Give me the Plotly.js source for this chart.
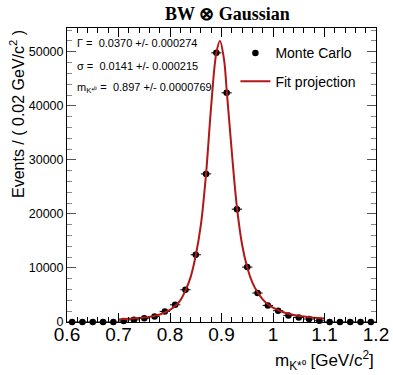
<!DOCTYPE html>
<html>
<head>
<meta charset="utf-8">
<script src="https://cdn.plot.ly/plotly-3.0.1.min.js"></script>
<style>html,body{margin:0;padding:0;background:#fff}#chart{width:393px;height:375px}</style>
</head>
<body>
<div id="chart"></div>
<script>
// Binned Monte Carlo data (bin centres, 0.02 GeV/c^2 bins)
const binCenters = [0.61,0.63,0.65,0.67,0.69,0.71,0.73,0.75,0.77,0.79,0.81,0.83,0.85,0.87,0.89,0.91,0.93,0.95,0.97,0.99,1.01,1.03,1.05,1.07,1.09,1.11,1.13,1.15,1.17,1.19];
const counts     = [0,0,0,0,0,180,400,700,1030,1960,3180,5970,12440,27400,49800,42400,20880,10160,5360,3070,2090,1220,850,550,220,0,0,0,0,0];
const binHalfWidth = [0.01];

// Fit projection
const fitX = [0.70,0.72,0.74,0.76,0.78,0.80,0.81,0.82,0.83,0.84,0.85,0.86,0.87,0.88,0.89,0.897,0.905,0.91,0.92,0.93,0.94,0.95,0.96,0.97,0.98,0.99,1.00,1.02,1.04,1.06,1.08,1.10];
const fitY = [480,580,720,950,1400,2250,2950,4000,5800,8300,12300,18000,27400,40000,49800,52000,48500,43000,31500,21200,14300,10100,7300,5500,4200,3300,2650,1800,1300,1000,800,650];

// Fit results
const fitLabels = ["\u0393 =  0.0370 +/- 0.000274", "\u03c3 =  0.0141 +/- 0.000215", "m<sub>K*\u2070</sub> =  0.897 +/- 0.0000769"];

const titleText = "BW \u2297 Gaussian";
const xTitle = "m<sub>K*\u2070</sub> [GeV/c<sup>2</sup>]";
const yTitle = "Events / ( 0.02 GeV/c<sup>2</sup> )";

const errY = counts.map(v => Math.sqrt(v));

const traces = [
  {
    x: binCenters, y: counts, type: 'scatter', mode: 'markers', name: 'Monte Carlo', legendgroup: 'a',
    marker: {color: '#000', size: 6.5},
    error_x: {type: 'constant', value: binHalfWidth[0], color: '#000', thickness: 1, width: 0},
    error_y: {type: 'data', array: errY, color: '#000', thickness: 1, width: 0},
    cliponaxis: false
  },
  {
    x: fitX, y: fitY, type: 'scatter', mode: 'lines', name: 'Fit projection', legendgroup: 'b',
    line: {color: '#b01818', width: 2, shape: 'spline', smoothing: 1.0}
  }
];

const ann = [];
ann.push({text: titleText, xref: 'paper', yref: 'paper', x: 0.52, y: 1.0, yshift: 14, xanchor: 'center', yanchor: 'middle', showarrow: false,
  font: {family: 'Liberation Serif, serif', size: 18, color: '#000', weight: 'bold'}});
[0,1,2].forEach(i => ann.push({text: fitLabels[i], xref: 'paper', yref: 'paper', x: 0.025, y: 1, yshift: -15 - i*22.5, xanchor: 'left', yanchor: 'middle', showarrow: false,
  font: {family: 'Liberation Sans, Arial, sans-serif', size: 11, color: '#000'}}));
ann.push({text: xTitle, xref: 'paper', yref: 'paper', x: 1.0, y: 0, yshift: -38, xanchor: 'right', yanchor: 'middle', showarrow: false,
  font: {family: 'Liberation Sans, Arial, sans-serif', size: 17, color: '#000'}});
ann.push({text: yTitle, xref: 'paper', yref: 'paper', x: 0, xshift: -50, y: 1.0, xanchor: 'center', yanchor: 'top', textangle: -90, showarrow: false,
  font: {family: 'Liberation Sans, Arial, sans-serif', size: 16, color: '#000'}});

const layout = {
  width: 393, height: 375,
  margin: {l: 67, r: 17, t: 28, b: 53},
  paper_bgcolor: '#fff', plot_bgcolor: '#fff',
  showlegend: true,
  legend: {x: 0.545, y: 0.968, xanchor: 'left', yanchor: 'top', bgcolor: 'rgba(0,0,0,0)',
    font: {family: 'Liberation Sans, Arial, sans-serif', size: 14, color: '#000'}, itemwidth: 30, tracegroupgap: 7},
  xaxis: {range: [0.6, 1.2], dtick: 0.1, tick0: 0.6, ticks: 'inside', ticklen: 9, tickcolor: '#000',
    showline: true, linecolor: '#000', linewidth: 1, mirror: 'allticks', showgrid: false, zeroline: false,
    ticklabelstandoff: -5,
    tickfont: {family: 'Liberation Sans, Arial, sans-serif', size: 19, color: '#000'},
    minor: {dtick: 0.02, ticks: 'inside', ticklen: 5, tickcolor: '#000', showgrid: false}},
  yaxis: {range: [0, 54400], dtick: 10000, tick0: 0, ticks: 'inside', ticklen: 9, tickcolor: '#555', tickformat: 'd',
    showline: true, linecolor: '#000', linewidth: 1, mirror: 'allticks', showgrid: false, zeroline: false,
    tickfont: {family: 'Liberation Sans, Arial, sans-serif', size: 12.5, color: '#000'},
    minor: {dtick: 2000, ticks: 'inside', ticklen: 5, tickcolor: '#888', showgrid: false}},
  annotations: ann
};

Plotly.newPlot('chart', traces, layout, {displayModeBar: false, staticPlot: true});
</script>
</body>
</html>
